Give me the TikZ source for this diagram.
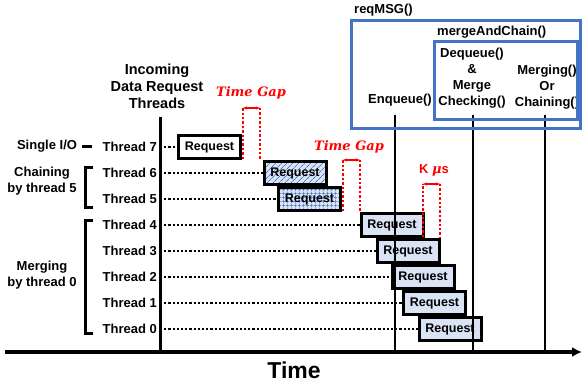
\documentclass[tikz,border=0pt]{standalone}
\usepackage{fontspec}
\setmainfont{Liberation Sans}
\newfontfamily\gapfont{DejaVu Serif}
\usetikzlibrary{positioning,patterns.meta,arrows.meta}
\definecolor{msgblue}{HTML}{4472C4}
\definecolor{reqfill}{HTML}{DAE3F3}

\tikzset{
  lbl/.style={font=\bfseries\fontsize{13}{16}\selectfont, inner sep=0pt, align=center},
  req/.style={draw, line width=3pt, minimum width=62pt, minimum height=23.5pt,
    inner sep=0pt, font=\bfseries\fontsize{12.5}{14}\selectfont},
  waitline/.style={line width=2.2pt, dash pattern=on 2.2pt off 2pt},
  gapline/.style={red, line width=2.6pt, dash pattern=on 2.4pt off 2pt},
  gaparrow/.style={red, line width=1.3pt, {Stealth[length=4pt]}-{Stealth[length=4pt]}},
  gaplbl/.style={red, font=\gapfont\bfseries\itshape\fontsize{13}{15}\selectfont},
  msgbox/.style={draw=msgblue, line width=3pt},
  stage/.style={line width=2.5pt},
}

\begin{document}
\begin{tikzpicture}[x=1pt,y=-1pt]
\useasboundingbox (0,0) rectangle (583,385);

% time axis and thread axis
\coordinate (tstart) at (5,352);
\coordinate (tend) at (582,352);
\draw[line width=3.5pt, -{Latex[length=10pt,width=10pt]}] (tstart) -- (tend);
\node[font=\bfseries\fontsize{23}{26}\selectfont] (time) at (294,370) {Time};
\draw[line width=3pt] (160,117) -- (160,352);
\node[lbl, font=\bfseries\fontsize{14.5}{17}\selectfont] (hdr) at (157,86) {Incoming\\Data Request\\Threads};

% thread labels
\node[lbl, anchor=east] (t7) at (157,147) {Thread 7};
\node[lbl, anchor=east] (t6) at (157,173) {Thread 6};
\node[lbl, anchor=east] (t5) at (157,199) {Thread 5};
\node[lbl, anchor=east] (t4) at (157,225) {Thread 4};
\node[lbl, anchor=east] (t3) at (157,251) {Thread 3};
\node[lbl, anchor=east] (t2) at (157,277) {Thread 2};
\node[lbl, anchor=east] (t1) at (157,303) {Thread 1};
\node[lbl, anchor=east] (t0) at (157,329) {Thread 0};

% groups on the left
\node[lbl] (single) at (47,146) {Single I/O};
\node[lbl] (chain) at (42,181) {Chaining\\by thread 5};
\node[lbl] (merge) at (42,275.5) {Merging\\by thread 0};
\draw[line width=3pt] (82,146) -- (92,146);
\draw[line width=3pt] (93,167) -- (85,167) -- (85,207) -- (93,207);
\draw[line width=3pt] (93,220) -- (85,220) -- (85,333) -- (93,333);

% requests
\node[req, fill=white] (r7) at (209.5,147) {Request};
\node[req, preaction={fill=reqfill}, pattern={Lines[angle=45, distance=4pt, line width=0.7pt]}, pattern color=msgblue] (r6) at (295,173) {Request};
\node[req, preaction={fill=reqfill}, pattern={Hatch[angle=0, distance=4pt, line width=0.6pt]}, pattern color=msgblue] (r5) at (309.5,199) {Request};
\node[req, fill=reqfill] (r4) at (392,225) {Request};
\node[req, fill=reqfill] (r3) at (408,251) {Request};
\node[req, fill=reqfill] (r2) at (423,277) {Request};
\node[req, fill=reqfill] (r1) at (434.5,303) {Request};
\node[req, fill=reqfill] (r0) at (450,329) {Request};

% waiting lines
\coordinate (a7) at (160,147);
\coordinate (a6) at (160,173);
\coordinate (a5) at (160,199);
\coordinate (a4) at (160,225);
\coordinate (a3) at (160,251);
\coordinate (a2) at (160,277);
\coordinate (a1) at (160,303);
\coordinate (a0) at (160,329);
\draw[waitline] (a7) -- (r7);
\draw[waitline] (a6) -- (r6);
\draw[waitline] (a5) -- (r5);
\draw[waitline] (a4) -- (r4);
\draw[waitline] (a3) -- (r3);
\draw[waitline] (a2) -- (r2);
\draw[waitline] (a1) -- (r1);
\draw[waitline] (a0) -- (r0);

% stages
\draw[stage] (395,115) -- (395,352);
\draw[stage] (473,115) -- (473,352);
\draw[stage] (545,115) -- (545,352);
\node[lbl, anchor=west] (reqmsg) at (354,10) {reqMSG()};
\node[lbl, anchor=west] (mac) at (437,32) {mergeAndChain()};
\node[lbl] (enq) at (400,100) {Enqueue()};
\node[lbl] (deq) at (472,78) {Dequeue()\\\&\\Merge\\Checking()};
\node[lbl] (mrg) at (547,87) {Merging()\\Or\\Chaining()};
\draw[msgbox] (351,21) rectangle (580,128);
\draw[msgbox] (434,42) rectangle (577,120);

% gaps
\draw[gapline] (243,159) -- (243,108);
\draw[gapline] (260,108) -- (260,160);
\draw[gaparrow] (243,108) -- (260,108);
\node[gaplbl] (gap1) at (251,93) {Time Gap};
\draw[gapline] (343,211) -- (343,160);
\draw[gapline] (360,160) -- (360,212);
\draw[gaparrow] (343,160) -- (360,160);
\node[gaplbl] (gap2) at (349,147) {Time Gap};
\draw[gapline] (423,237) -- (423,184);
\draw[gapline] (440,184) -- (440,237);
\draw[gaparrow] (423,184) -- (440,184);
\node[red, font=\bfseries\fontsize{13}{15}\selectfont] (kus) at (434,170) {K {\gapfont\itshape μ}s};
\end{tikzpicture}
\end{document}
